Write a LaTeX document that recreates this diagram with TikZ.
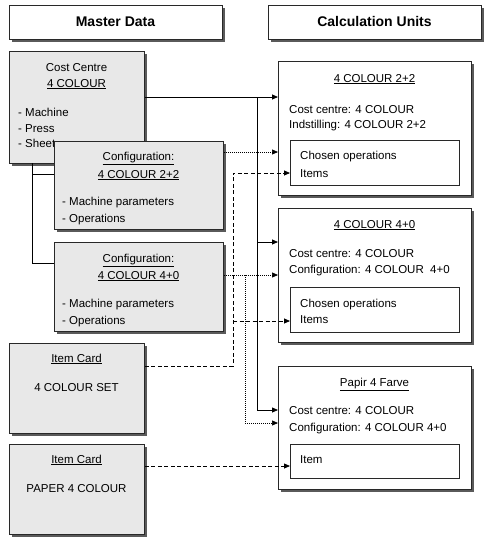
\documentclass[tikz,border=0pt]{standalone}
\usepackage{fontspec}
\setmainfont{Liberation Sans}
\usetikzlibrary{shadows,arrows.meta}
\definecolor{boxgray}{RGB}{232,232,232}
\definecolor{edge}{RGB}{40,40,40}
\definecolor{shade}{RGB}{90,90,90}
\tikzset{
  box/.style={draw=edge, line width=0.9pt, inner sep=0pt, anchor=north west, fill=white,
    drop shadow={shadow xshift=2.2pt, shadow yshift=-2.2pt, fill=shade, opacity=1}},
  gbox/.style={box, fill=boxgray},
  ibox/.style={draw=edge, line width=0.9pt, inner sep=0pt, anchor=north west, fill=white},
  txt/.style={inner sep=0pt, font=\fontsize{11.5}{13}\selectfont},
  hdr/.style={inner sep=0pt, font=\fontsize{14}{16}\selectfont\bfseries},
  conn/.style={line width=0.8pt, black},
  tip/.style={-{Triangle[length=6pt,width=5pt]}},
  dashline/.style={conn, dash pattern=on 4pt off 2.5pt},
  dotline/.style={conn, line width=0.7pt, dash pattern=on 1pt off 1pt},
}
\begin{document}
\begin{tikzpicture}[x=1pt,y=-1pt]
\useasboundingbox (0,0) rectangle (486,543);
% headers
\node[box, minimum width=213pt, minimum height=34pt] (hmd) at (9,5) {};
\node[hdr, anchor=base] (hmdt) at (115.5,27) {Master Data};
\node[box, minimum width=213pt, minimum height=34pt] (hcu) at (268,5) {};
\node[hdr, anchor=base] (hcut) at (374.5,27) {Calculation Units};
% cost centre
\node[gbox, minimum width=135pt, minimum height=112pt] (cc) at (9,51) {};
\node[txt, anchor=base] (cc1) at (76.5,71) {Cost Centre};
\node[txt, anchor=base] (cc2) at (76.5,87) {\underline{4 COLOUR}};
\node[txt, anchor=base west] (cc3) at (18,116) {- Machine};
\node[txt, anchor=base west] (cc4) at (18,132) {- Press};
\node[txt, anchor=base west] (cc5) at (18,147) {- Sheet};
% tree lines
\coordinate (t0) at (32,163);
\coordinate (t1) at (32,174);
\coordinate (t2) at (32,263);
\draw[conn] (t0) -- (t2);
% configuration boxes
\node[gbox, minimum width=169pt, minimum height=88pt] (cf1) at (54,141) {};
\node[txt, anchor=base] (cf1a) at (138.5,160) {\underline{Configuration:}};
\node[txt, anchor=base] (cf1b) at (138.5,178) {\underline{4 COLOUR 2+2}};
\node[txt, anchor=base west] (cf1c) at (62,205) {- Machine parameters};
\node[txt, anchor=base west] (cf1d) at (62,222) {- Operations};
\node[gbox, minimum width=169pt, minimum height=89pt] (cf2) at (54,242) {};
\node[txt, anchor=base] (cf2a) at (138.5,262) {\underline{Configuration:}};
\node[txt, anchor=base] (cf2b) at (138.5,279) {\underline{4 COLOUR 4+0}};
\node[txt, anchor=base west] (cf2c) at (62,307) {- Machine parameters};
\node[txt, anchor=base west] (cf2d) at (62,324) {- Operations};
\draw[conn] (t1) -- (cf1.west |- t1);
\draw[conn] (t2) -- (cf2.west |- t2);
% item cards
\node[gbox, minimum width=135pt, minimum height=90pt] (ic1) at (9,343) {};
\node[txt, anchor=base] (ic1a) at (76.5,362) {\underline{Item Card}};
\node[txt, anchor=base] (ic1b) at (76.5,391) {4 COLOUR SET};
\node[gbox, minimum width=135pt, minimum height=90pt] (ic2) at (9,444) {};
\node[txt, anchor=base] (ic2a) at (76.5,463) {\underline{Item Card}};
\node[txt, anchor=base] (ic2b) at (76.5,492) {PAPER 4 COLOUR};
% calculation units
\node[box, minimum width=193pt, minimum height=134pt] (cu1) at (278,61) {};
\node[txt, anchor=base] (cu1a) at (374.5,82) {\underline{4 COLOUR 2+2}};
\node[txt, anchor=base west] (cu1b) at (289,113) {Cost centre: 4 COLOUR};
\node[txt, anchor=base west] (cu1c) at (289,128) {Indstilling: 4 COLOUR 2+2};
\node[ibox, minimum width=169pt, minimum height=45pt] (in1) at (290,140) {};
\node[txt, anchor=base west] (in1a) at (300,159) {Chosen operations};
\node[txt, anchor=base west] (in1b) at (300,177) {Items};
\node[box, minimum width=193pt, minimum height=134pt] (cu2) at (278,208) {};
\node[txt, anchor=base] (cu2a) at (374.5,228) {\underline{4 COLOUR 4+0}};
\node[txt, anchor=base west] (cu2b) at (289,257) {Cost centre: 4 COLOUR};
\node[txt, anchor=base west] (cu2c) at (289,273) {Configuration: 4 COLOUR\ \ 4+0};
\node[ibox, minimum width=169pt, minimum height=45pt] (in2) at (290,287) {};
\node[txt, anchor=base west] (in2a) at (300,307) {Chosen operations};
\node[txt, anchor=base west] (in2b) at (300,323) {Items};
\node[box, minimum width=193pt, minimum height=123pt] (cu3) at (278,366) {};
\node[txt, anchor=base] (cu3a) at (374.5,386) {\underline{Papir 4 Farve}};
\node[txt, anchor=base west] (cu3b) at (289,414) {Cost centre: 4 COLOUR};
\node[txt, anchor=base west] (cu3c) at (289,431) {Configuration: 4 COLOUR 4+0};
\node[ibox, minimum width=169pt, minimum height=34pt] (in3) at (290,444) {};
\node[txt, anchor=base west] (in3a) at (300,463) {Item};
% connectors: solid (cost centre)
\coordinate (s0) at (257,97);
\coordinate (s1) at (257,242);
\coordinate (s2) at (257,410);
\draw[conn,tip] (cc.east |- s0) -- (cu1.west |- s0);
\draw[conn] (s0) -- (s2);
\draw[conn,tip] (s1) -- (cu2.west |- s1);
\draw[conn,tip] (s2) -- (cu3.west |- s2);
% dotted (configurations)
\coordinate (d1) at (0,152);
\draw[dotline,tip] (cf1.east |- d1) -- (cu1.west |- d1);
\coordinate (d2) at (245,275);
\coordinate (d3) at (245,423);
\draw[dotline,tip] (cf2.east |- d2) -- (cu2.west |- d2);
\draw[dotline,tip] (d2) -- (d3) -- (cu3.west |- d3);
% dashed (item cards)
\coordinate (e0) at (233,366);
\coordinate (e1) at (233,173);
\coordinate (e2) at (233,321);
\draw[dashline,tip] (ic1.east |- e0) -- (e0) -- (e1) -- (in1.west |- e1);
\draw[dashline,tip] (e2) -- (in2.west |- e2);
\coordinate (e3) at (0,466);
\draw[dashline,tip] (ic2.east |- e3) -- (in3.west |- e3);
\end{tikzpicture}
\end{document}
